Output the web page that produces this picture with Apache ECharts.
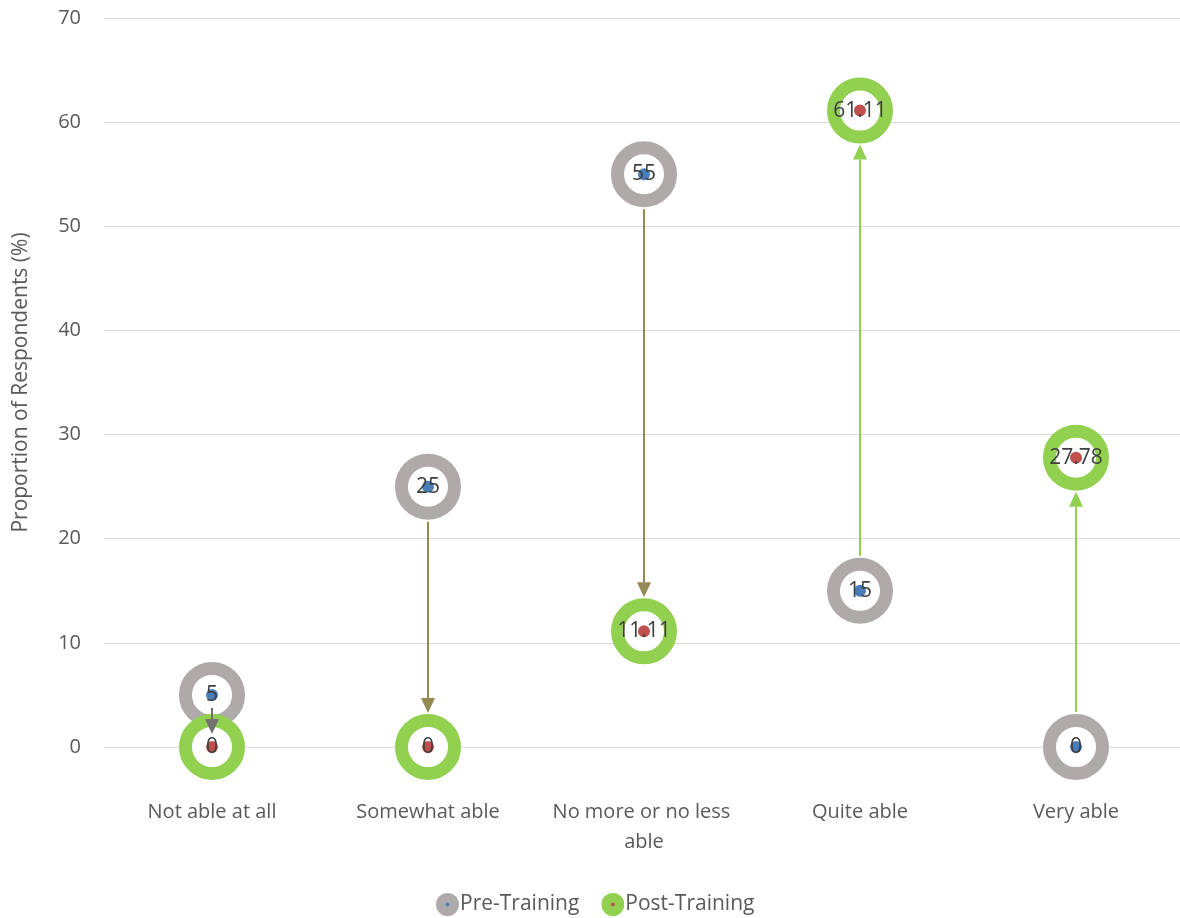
<!DOCTYPE html>
<html>
<head>
<meta charset="utf-8">
<title>Proportion of Respondents</title>
<script src="https://cdn.jsdelivr.net/npm/echarts@6/dist/echarts.min.js"></script>
<style>
  html, body { margin: 0; padding: 0; background: #ffffff; overflow: hidden; }
  #chart { width: 1184px; height: 918px; }
</style>
</head>
<body>
<div id="chart"></div>
<script>
// Response categories on the x axis
const categories = ['Not able at all', 'Somewhat able', 'No more or no less able', 'Quite able', 'Very able'];
// Share of respondents (%) before and after the training
const preTraining = [5, 25, 55, 15, 0];
const postTraining = [0, 0, 11.11, 61.11, 27.78];
// Y axis range and step
const yTicks = { min: 0, max: 70, step: 10 };

// Styling
const FONT = '"Open Sans", "Liberation Sans", sans-serif';
const GREY_RING = '#AEAAAA';
const GREEN_RING = '#92D050';
const BLUE_DOT = '#4A7EBB';
const RED_DOT = '#C0504D';
const ARROW_COLORS = ['#767171', '#948A54', '#948A54', '#92D050', '#92D050'];

function legendIcon(ring, dot) {
  const svg = '<svg xmlns="http://www.w3.org/2000/svg" width="24" height="24">' +
    '<circle cx="12" cy="12" r="12" fill="' + ring + '"/>' +
    '<circle cx="12" cy="12" r="2" fill="' + dot + '"/></svg>';
  return 'image://data:image/svg+xml;charset=utf-8,' + encodeURIComponent(svg);
}

// Arrow from the pre-training value to the post-training value of each category
const arrowData = categories.map((c, i) => [i, preTraining[i], postTraining[i]]);

function renderArrow(params, api) {
  const i = api.value(0);
  const p0 = api.coord([i, api.value(1)]);
  const p1 = api.coord([i, api.value(2)]);
  const dy = p1[1] - p0[1];
  const dist = Math.abs(dy);
  const dir = dy > 0 ? 1 : -1;
  const gapStart = Math.min(35, dist / 4);
  const gapEnd = Math.min(34, dist / 4);
  const x = p0[0];
  const yStart = p0[1] + dir * gapStart;
  const yTip = p1[1] - dir * gapEnd;
  const headLen = 15;
  const headHalf = 7;
  const color = ARROW_COLORS[i];
  return {
    type: 'group',
    children: [
      {
        type: 'line',
        shape: { x1: x, y1: yStart, x2: x, y2: yTip - dir * headLen },
        style: { stroke: color, lineWidth: 2 }
      },
      {
        type: 'polygon',
        shape: { points: [[x, yTip], [x - headHalf, yTip - dir * headLen], [x + headHalf, yTip - dir * headLen]] },
        style: { fill: color }
      }
    ]
  };
}

const valueLabel = {
  show: true,
  position: 'inside',
  fontFamily: FONT,
  fontSize: 21,
  color: '#404040'
};

const chart = echarts.init(document.getElementById('chart'), null, { renderer: 'canvas' });
chart.setOption({
  animation: false,
  backgroundColor: '#ffffff',
  grid: { left: 104, top: 18, right: 0, bottom: 171, containLabel: false },
  legend: {
    bottom: -3,
    left: 431,
    itemWidth: 23,
    itemHeight: 23,
    itemGap: 22,
    textStyle: { fontFamily: FONT, fontSize: 21, color: '#595959', padding: [0, 0, 0, -4] },
    data: [
      { name: 'Pre-Training', icon: legendIcon(GREY_RING, BLUE_DOT) },
      { name: 'Post-Training', icon: legendIcon(GREEN_RING, RED_DOT) }
    ]
  },
  xAxis: {
    type: 'category',
    data: categories,
    boundaryGap: true,
    axisLine: { show: false },
    axisTick: { show: false },
    axisLabel: {
      margin: 50,
      fontFamily: FONT,
      fontSize: 20,
      color: '#595959',
      lineHeight: 30,
      width: 205,
      overflow: 'break',
      interval: 0
    },
    splitLine: { show: false }
  },
  yAxis: {
    type: 'value',
    min: yTicks.min,
    max: yTicks.max,
    interval: yTicks.step,
    name: 'Proportion of Respondents (%)',
    nameLocation: 'middle',
    nameGap: 72,
    nameTextStyle: { fontFamily: FONT, fontSize: 21, color: '#595959' },
    axisLine: { show: false },
    axisTick: { show: false },
    axisLabel: { margin: 23, fontFamily: FONT, fontSize: 20, color: '#595959' },
    splitLine: { lineStyle: { color: '#D9D9D9', width: 1 } }
  },
  series: [
    {
      name: 'Pre-Training',
      type: 'scatter',
      data: preTraining,
      symbol: 'circle',
      symbolSize: 53,
      itemStyle: { color: '#ffffff', borderColor: GREY_RING, borderWidth: 13, opacity: 1 },
      z: 2
    },
    {
      name: 'Post-Training',
      type: 'scatter',
      data: postTraining,
      symbol: 'circle',
      symbolSize: 53,
      itemStyle: { color: '#ffffff', borderColor: GREEN_RING, borderWidth: 13, opacity: 1 },
      z: 3
    },
    {
      name: 'Change',
      type: 'custom',
      data: arrowData,
      renderItem: renderArrow,
      encode: { x: 0, y: [1, 2] },
      z: 4,
      silent: true
    },
    {
      name: 'Pre-Training',
      type: 'scatter',
      data: preTraining,
      symbol: 'circle',
      symbolSize: 12,
      itemStyle: { color: BLUE_DOT, opacity: 1 },
      label: Object.assign({ formatter: p => String(p.value) }, valueLabel),
      z: 5
    },
    {
      name: 'Post-Training',
      type: 'scatter',
      data: postTraining,
      symbol: 'circle',
      symbolSize: 12,
      itemStyle: { color: RED_DOT, opacity: 1 },
      label: Object.assign({ formatter: p => String(p.value) }, valueLabel),
      z: 5
    }
  ]
});
</script>
</body>
</html>
